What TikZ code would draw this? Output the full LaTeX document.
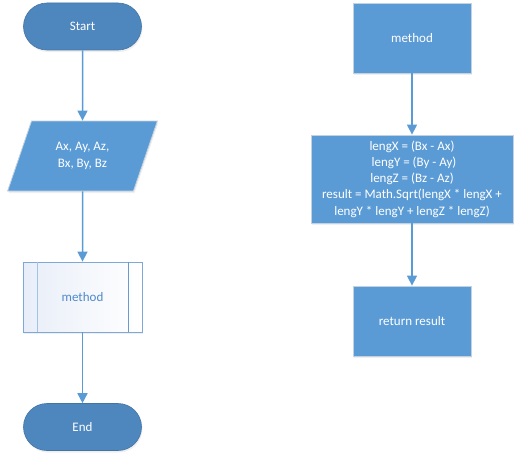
\documentclass[tikz,border=0pt]{standalone}
\usepackage{fontspec}
\setmainfont{Carlito}
\usetikzlibrary{arrows.meta,shapes.geometric,shadows}
\definecolor{boxblue}{HTML}{5B9BD5}
\definecolor{termblue}{HTML}{4E87BE}
\definecolor{termedge}{HTML}{4374A6}
\definecolor{boxedge}{HTML}{C3D2E0}
\definecolor{subedge}{HTML}{7EA8D8}
\definecolor{subleft}{HTML}{A3C2E6}
\definecolor{subright}{HTML}{6C98CC}
\definecolor{subfill}{HTML}{E8EEF8}
\definecolor{subtext}{HTML}{4F8ACB}
\definecolor{arrowblue}{HTML}{5B9BD5}
\tikzset{
  every node/.style={font=\fontsize{13}{16.3}\selectfont},
  shade/.style={drop shadow={shadow xshift=1pt,shadow yshift=-2pt,opacity=0.12}},
  term/.style={rectangle, rounded corners=23.5pt, minimum width=118pt, minimum height=47pt,
    fill=termblue, draw=termedge, line width=0.6pt, text=white, shade},
  procbox/.style={rectangle, minimum width=118pt, minimum height=70pt,
    fill=boxblue, draw=boxedge, line width=0.8pt, text=white, align=center, shade},
  iobox/.style={trapezium, trapezium left angle=64.8, trapezium right angle=115.2,
    trapezium stretches=true, minimum width=151pt, minimum height=70pt,
    fill=boxblue, draw=boxedge, line width=0.8pt, text=white, align=center, inner sep=0pt, shade},
  subbox/.style={rectangle, minimum width=119pt, minimum height=70pt,
    left color=subfill, right color=white, draw=subedge, line width=0.8pt, text=subtext, shade},
  flow/.style={draw=arrowblue, line width=1.5pt, -{Triangle[width=10pt,length=10pt]}}
}
\begin{document}
\begin{tikzpicture}[x=1pt,y=-1pt]
\useasboundingbox (0,0) rectangle (521,460);
\fill[white] (0,0) rectangle (521,460);
% left column
\node[term] (start) at (82.5,26.5) {Start};
\node[iobox] (inp) at (82.5,156) {Ax, Ay, Az,\\Bx, By, Bz};
\node[subbox] (sub) at (82.5,297) {method};
\draw[draw=subleft, line width=0.8pt] ([xshift=15pt]sub.north west) -- ([xshift=15pt]sub.south west);
\draw[draw=subright, line width=0.8pt] ([xshift=-14pt]sub.north east) -- ([xshift=-14pt]sub.south east);
\node[term] (stop) at (82.5,427) {End};
% right column
\node[procbox] (meth) at (412,38) {method};
\node[procbox, minimum width=202pt, minimum height=88pt] (calc) at (412,179)
  {lengX = (Bx - Ax)\\\hspace*{4pt}lengY = (By - Ay)\\lengZ = (Bz - Az)\\result = Math.Sqrt(lengX * lengX +\\lengY * lengY + lengZ * lengZ)};
\node[procbox] (ret) at (412,321) {return result};
% connectors
\draw[flow] (start.south) -- (inp.north);
\draw[flow] (inp.south) -- (sub.north);
\draw[flow] (sub.south) -- (stop.north);
\draw[flow] (meth.south) -- (calc.north);
\draw[flow] (calc.south) -- (ret.north);
\end{tikzpicture}
\end{document}
